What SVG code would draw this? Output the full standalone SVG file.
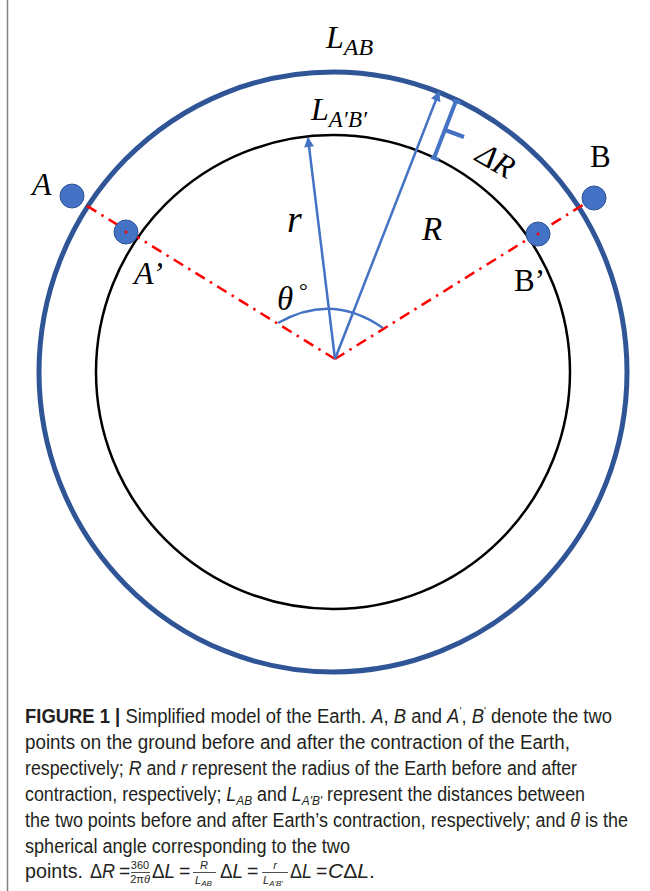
<svg xmlns="http://www.w3.org/2000/svg" width="650" height="891" viewBox="0 0 650 891">
<style>
.math{font-family:"Liberation Serif","DejaVu Serif",serif;font-style:italic;fill:#000}
.rom{font-family:"Liberation Serif","DejaVu Serif",serif;fill:#000}
.cap{font-family:"Liberation Sans",Arial,sans-serif;font-size:19.5px;fill:#231f20}
.sm{font-size:11px}
.xs{font-size:8px}
.it{font-style:italic}
.red{stroke:#ff0000;stroke-width:2.5;fill:none;stroke-dasharray:11 6 2.5 6}
.blue{stroke:#4472c4;stroke-width:2.5;fill:none}
.dot{fill:#4472c4;stroke:#2f5597;stroke-width:1}
</style>
<defs>
<marker id="ah" viewBox="0 0 10 10" refX="9" refY="5" markerWidth="11" markerHeight="10" markerUnits="userSpaceOnUse" orient="auto">
<path d="M0,0 L10,5 L0,10 z" fill="#4472c4"/>
</marker>
</defs>
<rect width="650" height="891" fill="#fff"/>
<line x1="7.5" y1="0" x2="7.5" y2="891" stroke="#808080" stroke-width="1.5"/>

<g id="outer-earth">
<ellipse cx="333" cy="372" rx="294" ry="300" fill="none" stroke="#2f5597" stroke-width="5"/>
</g>
<g id="inner-earth">
<circle cx="333" cy="372" r="237" fill="none" stroke="#000" stroke-width="2.5"/>
</g>

<g id="connectors">
<line class="red" x1="335" y1="359" x2="79" y2="201"/>
<line class="red" x1="335" y1="359" x2="586" y2="203"/>
<line class="blue" x1="335" y1="359" x2="308" y2="138" marker-end="url(#ah)"/>
<line class="blue" x1="335" y1="359" x2="439" y2="92" marker-end="url(#ah)"/>
<path class="blue" d="M278,323 Q332,292 383,328" stroke-width="1.3"/>
</g>

<g id="delta-r-bracket" stroke="#4472c4" stroke-width="4" fill="none">
<line x1="434" y1="158" x2="456" y2="101"/>
<line x1="445" y1="130" x2="464" y2="137"/>
<line x1="453" y1="100" x2="461" y2="103"/>
<line x1="431" y1="157" x2="439" y2="160"/>
</g>

<g id="point-A"><circle class="dot" cx="72" cy="196" r="12"/><text class="math" x="32" y="195" font-size="32">A</text></g>
<g id="point-A-prime"><circle class="dot" cx="126" cy="232" r="12"/><circle cx="126" cy="232" r="1.5" fill="#ff0000"/><text class="math" x="134" y="284" font-size="32">A’</text></g>
<g id="point-B"><circle class="dot" cx="594" cy="198" r="12"/><text class="rom" x="590" y="167" font-size="31">B</text></g>
<g id="point-B-prime"><circle class="dot" cx="538" cy="234" r="12"/><circle cx="538" cy="234" r="1.5" fill="#ff0000"/><text class="rom" x="514" y="291" font-size="31">B’</text></g>

<g id="label-LAB"><text class="math" x="326" y="48" font-size="32">L<tspan font-size="24" dy="7">AB</tspan></text></g>
<g id="label-LApBp"><text class="math" x="311" y="120" font-size="32">L<tspan font-size="23" dy="7">A′B′</tspan></text></g>
<g id="label-dR"><text class="math" x="0" y="0" font-size="32" transform="translate(474,160) rotate(30)">ΔR</text></g>
<g id="label-r"><text class="math" x="287" y="232" font-size="38">r</text></g>
<g id="label-R"><text class="math" x="422" y="240" font-size="33">R</text></g>
<g id="label-theta"><text class="math" x="277" y="310" font-size="33">θ</text><text class="rom" x="299" y="298" font-size="22">°</text></g>

<g id="caption">
<text class="cap" x="25" y="723" textLength="587" lengthAdjust="spacingAndGlyphs"><tspan font-weight="bold">FIGURE 1 | </tspan>Simplified model of the Earth. <tspan class="it">A</tspan>, <tspan class="it">B</tspan> and <tspan class="it">A</tspan><tspan class="sm" dy="-8">'</tspan><tspan dy="8">, </tspan><tspan class="it">B</tspan><tspan class="sm" dy="-8">'</tspan><tspan dy="8"> denote the two</tspan></text>
<text class="cap" x="25" y="749" textLength="545" lengthAdjust="spacingAndGlyphs">points on the ground before and after the contraction of the Earth,</text>
<text class="cap" x="25" y="775" textLength="552" lengthAdjust="spacingAndGlyphs">respectively; <tspan class="it">R</tspan> and <tspan class="it">r</tspan> represent the radius of the Earth before and after</text>
<text class="cap" x="25" y="801" textLength="560" lengthAdjust="spacingAndGlyphs">contraction, respectively; <tspan class="it">L</tspan><tspan class="it" style="font-size:13px" dy="4">AB</tspan><tspan dy="-4"> and </tspan><tspan class="it">L</tspan><tspan class="it" style="font-size:13px" dy="4">A'B'</tspan><tspan dy="-4"> represent the distances between</tspan></text>
<text class="cap" x="25" y="827" textLength="603" lengthAdjust="spacingAndGlyphs">the two points before and after Earth’s contraction, respectively; and <tspan class="it">θ</tspan> is the</text>
<text class="cap" x="25" y="853" textLength="325" lengthAdjust="spacingAndGlyphs">spherical angle corresponding to the two</text>
<text class="cap" x="25" y="878" textLength="58" lengthAdjust="spacingAndGlyphs">points.</text>
<text class="cap" x="90" y="878" textLength="25" lengthAdjust="spacingAndGlyphs">Δ<tspan class="it">R</tspan></text>
<text class="cap" x="119" y="878">=</text>
<text class="cap sm" x="140" y="869" text-anchor="middle">360</text>
<line x1="131" y1="872.5" x2="150" y2="872.5" stroke="#231f20" stroke-width="0.8"/>
<text class="cap sm" x="140" y="883" text-anchor="middle">2π<tspan class="it">θ</tspan></text>
<text class="cap" x="152" y="878" textLength="23" lengthAdjust="spacingAndGlyphs">Δ<tspan class="it">L</tspan></text>
<text class="cap" x="179" y="878">=</text>
<text class="cap sm it" x="204" y="869" text-anchor="middle">R</text>
<line x1="193" y1="872.5" x2="216" y2="872.5" stroke="#231f20" stroke-width="0.8"/>
<text class="cap sm it" x="195" y="884">L<tspan class="xs" dy="2">AB</tspan></text>
<text class="cap" x="220" y="878" textLength="23" lengthAdjust="spacingAndGlyphs">Δ<tspan class="it">L</tspan></text>
<text class="cap" x="247" y="878">=</text>
<text class="cap sm it" x="275" y="869" text-anchor="middle">r</text>
<line x1="262" y1="872.5" x2="288" y2="872.5" stroke="#231f20" stroke-width="0.8"/>
<text class="cap sm it" x="263" y="884">L<tspan class="xs" dy="2">A'B'</tspan></text>
<text class="cap" x="290" y="878" textLength="22" lengthAdjust="spacingAndGlyphs">Δ<tspan class="it">L</tspan></text>
<text class="cap" x="316" y="878">=</text>
<text class="cap" x="328" y="878" textLength="47" lengthAdjust="spacingAndGlyphs"><tspan class="it">C</tspan>Δ<tspan class="it">L</tspan>.</text>
</g>
</svg>
